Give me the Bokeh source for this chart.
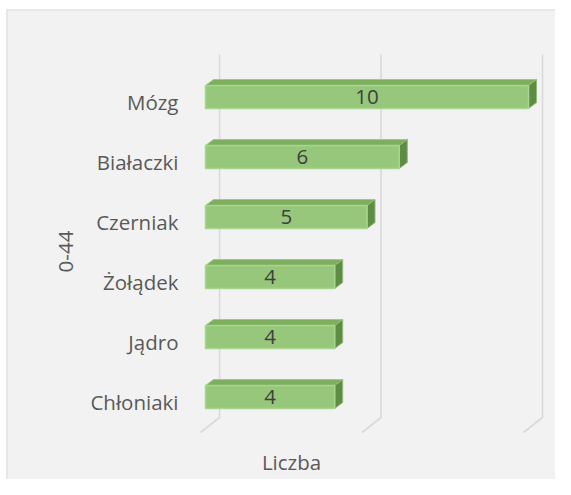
import numpy as np
from bokeh.plotting import figure
from bokeh.models import Range1d, Span
from bokeh.core.properties import value
from bokeh.embed import file_html
from bokeh.resources import INLINE

# ---- data ----
categories = ["Mózg", "Białaczki", "Czerniak", "Żołądek", "Jądro", "Chłoniaki"]
counts = [10, 6, 5, 4, 4, 4]
x_ticks = [0, 5, 10]
y_title = "0-44"
x_title = "Liczba"

# ---- layout (picture pixels) ----
W, H = 555, 479
FRAME_LEFT = 6
FRAME_TOP = 9
X0_PX = 205.0      # x of value 0 on the bars' front plane
PX_PER_UNIT = 32.3
Y0_PX = 101.5      # y of first category label centre
PX_PER_CAT = 60.0


def xd(px):
    return (px - X0_PX) / PX_PER_UNIT


def dxu(px):
    return px / PX_PER_UNIT


def yd(px):
    return (px - Y0_PX) / PX_PER_CAT


def dyu(px):
    return px / PX_PER_CAT


FONT = value("Open Sans")
FS = "20.5px"
LABEL_COLOR = "#595959"

p = figure(width=W, height=H, output_backend="svg", toolbar_location=None,
           x_range=Range1d(xd(FRAME_LEFT), xd(W)),
           y_range=Range1d(yd(H), yd(FRAME_TOP)),
           x_axis_location=None, y_axis_location=None)
p.min_border = 0
p.min_border_top = FRAME_TOP
p.min_border_left = FRAME_LEFT
p.grid.visible = False
p.outline_line_color = None
p.background_fill_color = "#F2F2F2"
p.border_fill_color = "white"

# chart border (left + top)
p.add_layout(Span(location=yd(FRAME_TOP), dimension="width",
                  line_color="#D9D9D9", line_width=2))
p.add_layout(Span(location=xd(FRAME_LEFT), dimension="height",
                  line_color="#D9D9D9", line_width=2))

# ---- 3D gridlines: back wall verticals + floor diagonals ----
back_dx = dxu(14)
front_dx = dxu(-5)
g_top, g_knee, g_floor = yd(54), yd(417), yd(432)
gxs = [[v + back_dx, v + back_dx, v + front_dx] for v in x_ticks]
gys = [[g_top, g_knee, g_floor] for _ in x_ticks]
p.multi_line(gxs, gys, line_color="#D9D9D9", line_width=1.6)

# ---- 3D bars ----
idx = np.arange(len(categories))
half = dyu(11.5)
depth_x = dxu(8)
depth_y = dyu(6)
centers = idx - dyu(5)

top_xs, top_ys, side_xs, side_ys = [], [], [], []
for c, v in zip(centers, counts):
    t, b = c - half, c + half
    top_xs.append([0, v, v + depth_x, depth_x])
    top_ys.append([t, t, t - depth_y, t - depth_y])
    side_xs.append([v, v + depth_x, v + depth_x, v])
    side_ys.append([t, t - depth_y, b - depth_y, b])

p.patches(top_xs, top_ys, fill_color="#7DAE5E", line_color="#9CCB80", line_width=1)
p.patches(side_xs, side_ys, fill_color="#5F8C45", line_color="#8DBE70", line_width=1)
p.quad(left=0, right=counts, top=centers - half, bottom=centers + half,
       fill_color="#96C77A", line_color="#A8D690", line_width=1.5)

# data labels
p.text(x=[v / 2 for v in counts], y=centers, text=[str(v) for v in counts],
       text_font=FONT, text_font_size=FS, text_color="#404040",
       text_align="center", text_baseline="middle")

# category labels
p.text(x=[xd(178)] * len(categories), y=idx, text=categories,
       text_font=FONT, text_font_size=FS, text_color=LABEL_COLOR,
       text_align="right", text_baseline="middle")

# axis titles
p.text(x=[xd(65)], y=[yd(251)], text=[y_title], angle=np.pi / 2,
       text_font=FONT, text_font_size=FS, text_color=LABEL_COLOR,
       text_align="center", text_baseline="middle")
p.text(x=[xd(291)], y=[yd(461)], text=[x_title],
       text_font=FONT, text_font_size=FS, text_color=LABEL_COLOR,
       text_align="center", text_baseline="middle")

open("out.html", "w").write(file_html(p, INLINE))
